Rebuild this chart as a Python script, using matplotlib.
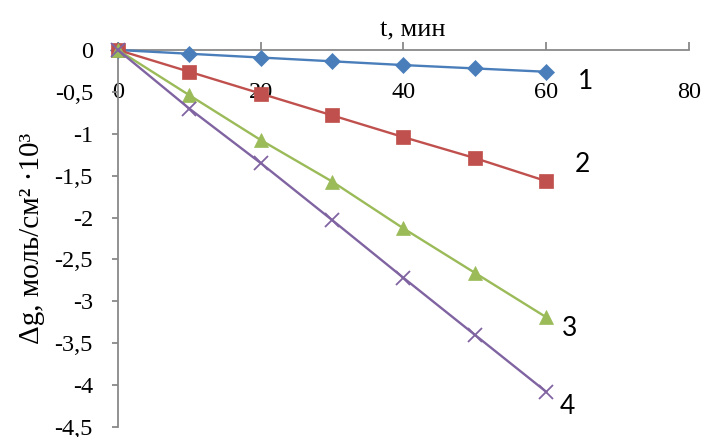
import matplotlib.pyplot as plt
from matplotlib.ticker import FixedLocator

# время, мин
t = [0, 10, 20, 30, 40, 50, 60]

# убыль массы для четырёх образцов
dg_1 = [0, -0.045, -0.09, -0.135, -0.18, -0.22, -0.26]
dg_2 = [0, -0.26, -0.52, -0.78, -1.04, -1.29, -1.565]
dg_3 = [0, -0.54, -1.075, -1.57, -2.13, -2.66, -3.19]
dg_4 = [0, -0.70, -1.35, -2.03, -2.72, -3.40, -4.08]

x_ticks = [0, 20, 40, 60, 80]
y_ticks = [0, -0.5, -1, -1.5, -2, -2.5, -3, -3.5, -4, -4.5]
y_tick_labels = ["0", "-0,5", "-1", "-1,5", "-2", "-2,5", "-3", "-3,5", "-4", "-4,5"]

curve_names = ["1", "2", "3", "4"]
name_x = [64.4, 64.0, 62.2, 61.9]
name_y = [-0.38, -1.37, -3.32, -4.25]

serif = "Liberation Serif"
axis_color = "#898989"

fig = plt.figure(figsize=(7.04, 4.37), dpi=100)
ax = fig.add_axes([0.1676, 0.0229, 0.8111, 0.8627])

series = [
    (dg_1, "#4A7EBB", "D", 8.5),
    (dg_2, "#C0504D", "s", 9.5),
    (dg_3, "#9BBB59", "^", 10.5),
    (dg_4, "#8064A2", "x", 10),
]
for dg, color, marker, ms in series:
    ax.plot(t, dg, color=color, marker=marker, markersize=ms, linewidth=1.7,
            markeredgewidth=1.3 if marker == "x" else 0.5,
            markeredgecolor=color, clip_on=False, zorder=3)

for name, nx, ny in zip(curve_names, name_x, name_y):
    ax.text(nx, ny, name, fontsize=19, family="Lato",
            ha="left", va="center")

ax.set_xlim(0, 80)
ax.set_ylim(-4.5, 0)

# ось времени проходит по y = 0
ax.spines["bottom"].set_position(("data", 0))
ax.spines["top"].set_visible(False)
ax.spines["right"].set_visible(False)
for side in ("bottom", "left"):
    ax.spines[side].set_color(axis_color)
    ax.spines[side].set_linewidth(1.3)
ax.spines["bottom"].set_zorder(1)

ax.xaxis.set_major_locator(FixedLocator(x_ticks))
ax.tick_params(axis="x", direction="in", length=5.5, width=1.3,
               color=axis_color, pad=23, labelsize=17.5)
ax.yaxis.set_major_locator(FixedLocator(y_ticks))
ax.set_yticklabels(y_tick_labels)
ax.tick_params(axis="y", direction="out", length=4.5, width=1.3,
               color=axis_color, pad=13.5, labelsize=17.5)
for lbl in ax.get_xticklabels() + ax.get_yticklabels():
    lbl.set_family(serif)

ax.set_title("t, мин", fontsize=19, family=serif, x=0.517, pad=9.5)
ax.set_ylabel("Δg, моль/см² ·10³", fontsize=21, family=serif, labelpad=7)

fig.savefig("out.png", dpi=100)
